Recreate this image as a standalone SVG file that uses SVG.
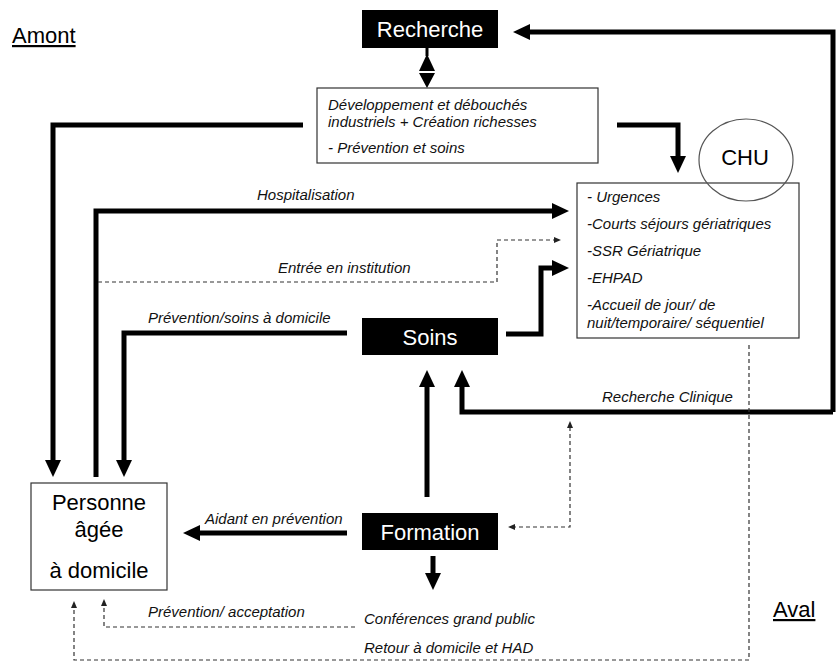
<svg xmlns="http://www.w3.org/2000/svg" width="836" height="663" viewBox="0 0 836 663">
<style>
.bg{fill:#fff}
.blk{fill:#000}
.wt{fill:#fff;font-family:"Liberation Sans",Arial,sans-serif;font-size:22px;text-anchor:middle}
.box{fill:#fff;stroke:#333;stroke-width:1.2}
.big{fill:#000;font-family:"Liberation Sans",Arial,sans-serif;font-size:22px;text-anchor:middle}
.it{fill:#111;font-family:"Liberation Sans",Arial,sans-serif;font-size:15px;font-style:italic}
.thick{fill:none;stroke:#000;stroke-width:5;stroke-linejoin:miter}
.dash{fill:none;stroke:#333;stroke-width:1.2;stroke-dasharray:4 3}
.ul{font-family:"Liberation Sans",Arial,sans-serif;font-size:22px;fill:#000;text-decoration:underline}
</style>
<defs>
<marker id="ah" markerUnits="userSpaceOnUse" markerWidth="18" markerHeight="18" viewBox="0 0 18 18" refX="4" refY="9" orient="auto">
<path d="M0,1 L17,9 L0,17 z" fill="#000"/>
</marker>
<marker id="sa" markerUnits="userSpaceOnUse" markerWidth="8" markerHeight="8" viewBox="0 0 8 8" refX="1" refY="4" orient="auto-start-reverse">
<path d="M0,1 L7,4 L0,7 z" fill="#222"/>
</marker>
</defs>
<rect class="bg" x="0" y="0" width="836" height="663"/>

<g id="amont"><text class="ul" x="12" y="43">Amont</text></g>
<g id="aval"><text class="ul" x="773" y="617">Aval</text></g>

<g id="connectors">
<path class="thick" d="M833,412 L833,32 L526,32" marker-end="url(#ah)"/>
<path class="thick" d="M833,412 L462,412 L462,383" marker-end="url(#ah)"/>
<path class="thick" d="M303,125 L53,125 L53,464" marker-end="url(#ah)"/>
<path class="thick" d="M617,125 L678,125 L678,160" marker-end="url(#ah)"/>
<path class="thick" d="M96,477 L96,211 L556,211" marker-end="url(#ah)"/>
<path class="dash" d="M98,282 L497,282 L497,240 L555,240" marker-end="url(#sa)"/>
<path class="thick" d="M506,334 L541,334 L541,268 L556,268" marker-end="url(#ah)"/>
<path class="thick" d="M347,333 L124,333 L124,464" marker-end="url(#ah)"/>
<path class="thick" d="M427,497 L427,383" marker-end="url(#ah)"/>
<path class="thick" d="M347,533 L196,533" marker-end="url(#ah)"/>
<path class="thick" d="M433,556 L433,577" marker-end="url(#ah)"/>
<path class="dash" d="M570,427 L570,527 L514,527" marker-start="url(#sa)" marker-end="url(#sa)"/>
<path class="dash" d="M355,627 L104,627 L104,605" marker-end="url(#sa)"/>
<path class="dash" d="M749,345 L749,660 L74,660 L74,607" marker-end="url(#sa)"/>
<path d="M427,54 L419,71 L435,71 z" fill="#000"/>
<path d="M419,73 L435,73 L427,88 z" fill="#000"/>
<line x1="427" y1="48" x2="427" y2="56" stroke="#000" stroke-width="3"/>
</g>

<g id="labels">
<text class="it" x="257" y="200">Hospitalisation</text>
<text class="it" x="278" y="273">Entrée en institution</text>
<text class="it" x="148" y="323">Prévention/soins à domicile</text>
<text class="it" x="602" y="402">Recherche Clinique</text>
<text class="it" x="205" y="524">Aidant en prévention</text>
<text class="it" x="148" y="617">Prévention/ acceptation</text>
<text class="it" x="364" y="624">Conférences grand public</text>
<text class="it" x="364" y="653">Retour à domicile et HAD</text>
</g>

<g id="recherche">
<rect class="blk" x="362" y="10" width="136" height="38"/>
<text class="wt" x="430" y="37">Recherche</text>
</g>

<g id="developpement">
<rect class="box" x="317" y="88" width="281" height="75"/>
<text class="it" x="328" y="110">Développement et débouchés</text>
<text class="it" x="328" y="127">industriels + Création richesses</text>
<text class="it" x="328" y="153">- Prévention et soins</text>
</g>

<g id="chu-etablissements">
<rect class="box" x="577" y="183" width="222" height="155"/>
<text class="it" x="587" y="202">- Urgences</text>
<text class="it" x="587" y="229">-Courts séjours gériatriques</text>
<text class="it" x="587" y="256">-SSR Gériatrique</text>
<text class="it" x="587" y="283">-EHPAD</text>
<text class="it" x="587" y="310">-Accueil de jour/ de</text>
<text class="it" x="587" y="328">nuit/temporaire/ séquentiel</text>
</g>

<g id="chu">
<ellipse cx="746" cy="160" rx="47" ry="41" fill="none" stroke="#555" stroke-width="1.2"/>
<text class="big" x="745" y="165">CHU</text>
</g>

<g id="soins">
<rect class="blk" x="362" y="318" width="136" height="37"/>
<text class="wt" x="430" y="345">Soins</text>
</g>

<g id="formation">
<rect class="blk" x="362" y="513" width="136" height="37"/>
<text class="wt" x="430" y="540">Formation</text>
</g>

<g id="personne">
<rect class="box" x="31" y="483" width="136" height="107"/>
<text class="big" x="99" y="510">Personne</text>
<text class="big" x="99" y="537">âgée</text>
<text class="big" x="99" y="578">à domicile</text>
</g>
</svg>
